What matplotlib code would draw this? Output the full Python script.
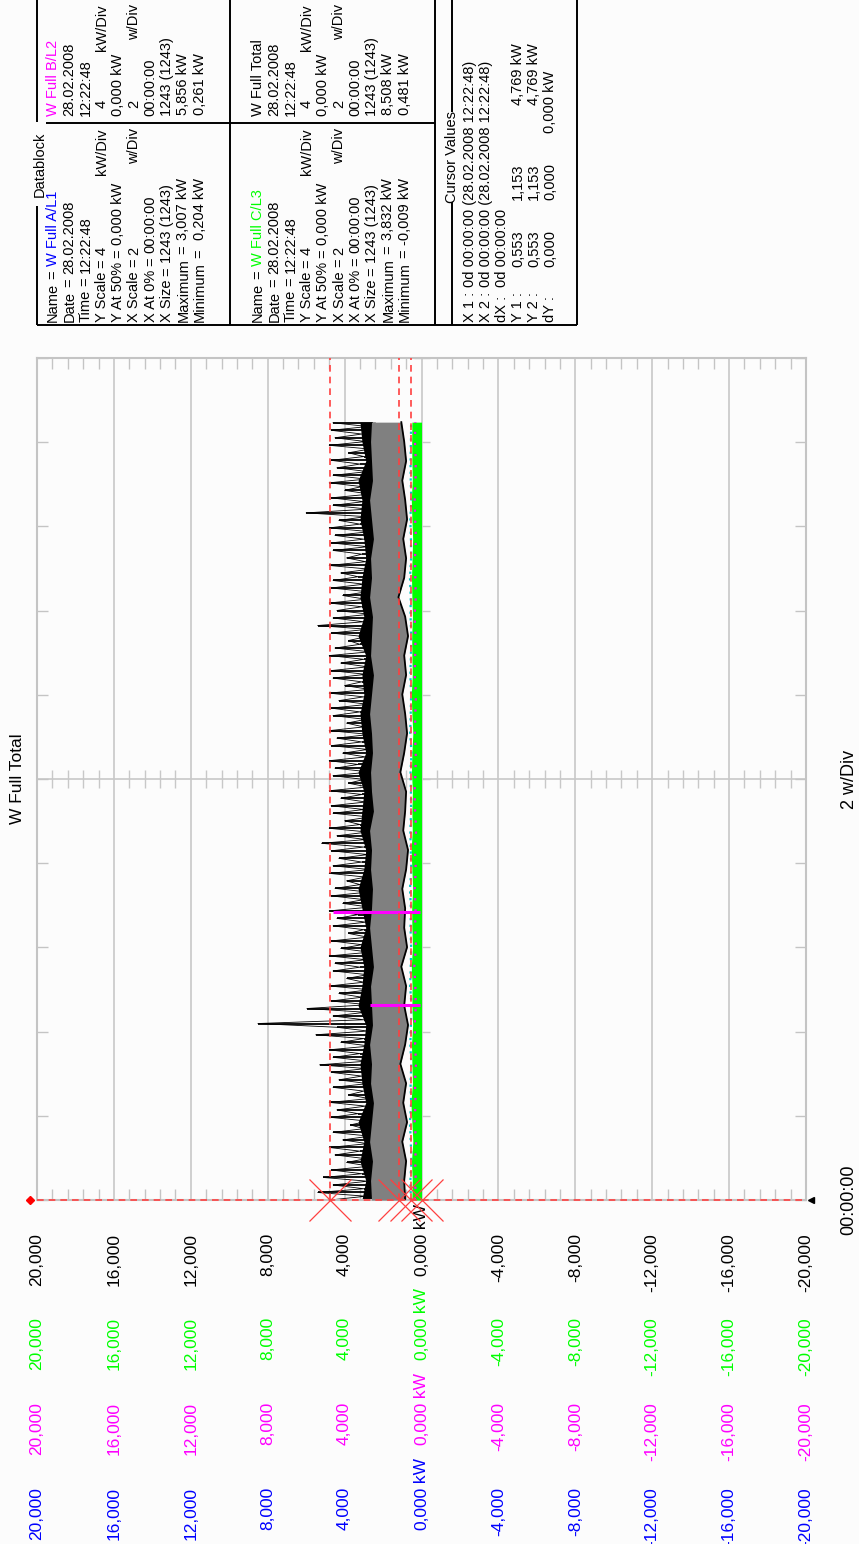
import numpy as np
import matplotlib
matplotlib.use("Agg")
import matplotlib.pyplot as plt
from matplotlib.transforms import blended_transform_factory

W, H = 859, 1544
FONT = ["Liberation Sans Narrow", "Liberation Sans", "DejaVu Sans"]
DB_FONT = ["Liberation Sans", "DejaVu Sans"]
plt.rcParams["font.family"] = FONT

# ---- values (kW against sample number) ----
n_samples = 1243
div_samples = 134.55
value_ticks = [20, 16, 12, 8, 4, 0, -4, -8, -12, -16, -20]
label_colors = ["black", "#00ff00", "#ff00ff", "#0000ff"]   # Total, C/L3, B/L2, A/L1

# W Full Total, every 6th sample
total_kw = [
    4.77, 2.9, 5.4, 3.0, 4.6, 2.8, 5.1, 3.1, 4.7, 2.7, 3.9, 2.9, 4.5, 3.2, 4.8, 2.8,
    4.1, 2.7, 4.6, 3.0, 3.7, 2.8, 4.7, 3.3, 4.4, 2.9, 4.8, 2.7, 3.8, 3.0, 4.6, 2.8,
    4.3, 3.1, 4.7, 2.9, 5.3, 2.8, 4.6, 3.2, 4.8, 2.7, 4.2, 3.0, 5.5, 2.8, 4.4, 8.51,
    3.0, 4.6, 2.9, 5.96, 2.8, 4.7, 3.1, 4.3, 2.7, 4.8, 3.0, 3.9, 2.8, 4.6, 3.2, 4.5,
    2.9, 4.8, 2.7, 4.2, 3.1, 4.7, 2.8, 3.8, 3.0, 4.6, 2.9, 4.4, 3.3, 4.8, 2.7, 4.1,
    3.0, 4.7, 2.8, 4.5, 3.2, 3.9, 2.9, 4.8, 2.7, 4.6, 3.1, 4.3, 2.8, 4.7, 3.0, 5.2,
    2.9, 4.4, 2.8, 4.8, 3.2, 4.0, 2.7, 4.6, 3.0, 4.7, 2.9, 4.2, 3.1, 4.8, 2.8, 3.8,
    3.0, 4.6, 2.7, 4.5, 3.3, 4.8, 2.9, 4.1, 2.8, 4.7, 3.1, 4.4, 2.7, 4.8, 3.0, 3.9,
    2.9, 4.6, 3.2, 4.7, 2.8, 4.3, 3.0, 4.8, 2.7, 4.0, 3.1, 4.6, 2.9, 4.7, 2.8, 4.2,
    3.0, 4.8, 2.7, 4.5, 3.2, 3.8, 2.9, 4.7, 2.8, 5.4, 3.0, 4.6, 2.7, 4.4, 3.1, 4.8,
    2.9, 4.1, 2.8, 4.7, 3.0, 4.6, 3.3, 4.2, 2.7, 4.8, 2.9, 3.9, 3.1, 4.6, 2.8, 4.7,
    3.0, 4.5, 2.7, 4.8, 3.2, 4.3, 2.9, 6.0, 2.8, 4.6, 3.0, 4.7, 2.7, 4.0, 3.1, 4.8,
    2.9, 4.6, 2.8, 4.4, 3.2, 4.7, 3.0, 3.8, 2.7, 4.8, 2.9, 4.5, 3.1, 4.7, 2.8, 4.6,
]
# dense black floor of the Total trace
floor_kw = [3.1, 2.9, 3.2, 3.0, 3.3, 2.9, 3.1, 3.2, 3.0, 2.9, 3.3, 3.1, 3.0, 3.2, 2.9, 3.1,
            3.3, 3.0, 2.9, 3.2, 3.1, 3.0, 3.3, 2.9, 3.1, 3.2, 3.0, 3.1, 2.9, 3.3, 3.0, 3.2,
            3.1, 2.9, 3.0, 3.2, 3.1, 3.3, 2.9, 3.1, 3.2]
# grey band
band_low_kw = [0.85, 0.9, 0.8, 1.0, 0.75, 0.95, 0.8, 1.1, 0.85, 0.7, 0.9, 0.8, 1.05, 0.75,
               0.9, 0.85, 1.0, 0.8, 0.7, 0.95, 0.85, 0.8, 1.1, 0.9, 0.75, 0.85, 1.0, 0.8,
               0.9, 0.7, 0.85, 1.2, 0.9, 0.8, 0.95, 0.75, 0.85, 1.0, 0.8, 0.9, 1.05]
band_high_kw = [2.6, 2.65, 2.55, 2.7, 2.6, 2.5, 2.65, 2.6, 2.7, 2.55, 2.6, 2.65, 2.5, 2.6,
                2.7, 2.6, 2.55, 2.65, 2.6, 2.7, 2.5, 2.6, 2.65, 2.55, 2.6, 2.7, 2.6, 2.5,
                2.65, 2.6, 2.55, 2.7, 2.6, 2.65, 2.5, 2.6, 2.7, 2.55, 2.6, 2.65, 2.6]
# W Full C/L3 (green band), A/L1, B/L2
green_top_kw = [0.5, 0.48, 0.52, 0.45, 0.5, 0.55, 0.47, 0.5, 0.52, 0.46, 0.5, 0.49, 0.53,
                0.47, 0.5, 0.51, 0.46, 0.5, 0.54, 0.48, 0.5, 0.47, 0.52, 0.5, 0.45, 0.5,
                0.53, 0.48, 0.5, 0.51, 0.47, 0.5, 0.52, 0.49, 0.46, 0.5, 0.53, 0.48, 0.5,
                0.51, 0.5]
a_l1_kw = [0.55, 0.58, 0.52, 0.56, 0.6, 0.54, 0.57, 0.53, 0.58, 0.55, 0.52, 0.59, 0.56,
           0.54, 0.57, 0.55, 0.6, 0.53, 0.56, 0.58, 0.54, 0.55, 0.57, 0.52, 0.59, 0.56,
           0.54, 0.58, 0.55, 0.53, 0.57, 0.56, 0.6, 0.54, 0.55, 0.58, 0.53, 0.56, 0.57,
           0.55, 0.54]
b_l2_kw = [0.35, 0.3, 0.33, 0.28, 0.36, 0.31, 0.34, 0.29, 0.33, 0.35, 0.3, 0.32, 0.37,
           0.29, 0.33, 0.31, 0.35, 0.3, 0.34, 0.28, 0.33, 0.36, 0.31, 0.3, 0.34, 0.32,
           0.29, 0.35, 0.33, 0.31, 0.36, 0.3, 0.32, 0.34, 0.29, 0.33, 0.35, 0.31, 0.3,
           0.34, 0.32]
pink_t = [311, 460]
pink_kw = [2.7, 4.6]
cursor_kw = [4.769, 1.153, 0.553, 0.000]

# datablock text
db_labels = ["Name", "Date", "Time", "Y Scale", "Y At 50%", "X Scale", "X At 0%",
             "X Size", "Maximum", "Minimum"]
ch_names = ["W Full A/L1", "W Full B/L2", "W Full C/L3", "W Full Total"]
ch_colors = ["#0000ff", "#ff00ff", "#00ff00", "black"]
ch_max = ["3,007 kW", "5,856 kW", "3,832 kW", "8,508 kW"]
ch_min = ["0,204 kW", "0,261 kW", "-0,009 kW", "0,481 kW"]


def fx(px):
    return px / W


def fy(py):
    return 1 - py / H


fig = plt.figure(figsize=(W / 100, H / 100), dpi=100, facecolor="#fcfcfc")
ax = fig.add_axes([fx(37), fy(1200), (806 - 37) / W, (1200 - 358) / H])
ax.set_facecolor("#fcfcfc")
ax.set_xlim(20, -20)
ax.set_ylim(0, 10 * div_samples)
ax.set_axisbelow(True)

minor_v = [v for v in np.arange(-20, 20.01, 0.8) if abs(v / 4 - round(v / 4)) > 0.01]
time_divs = np.arange(11) * div_samples
ax.set_xticks(value_ticks)
ax.set_xticks(minor_v, minor=True)
ax.set_yticks(time_divs)
ax.tick_params(which="both", direction="in", colors="#c4c4c4", top=True, right=True,
               labelbottom=False, labelleft=False)
ax.tick_params(axis="x", which="major", length=0)
ax.tick_params(axis="x", which="minor", length=8, width=1)
ax.tick_params(axis="y", which="major", length=8, width=1)
ax.grid(axis="x", which="major", color="#c8c8c8", lw=1.2)
for s in ax.spines.values():
    s.set_color("#c4c4c4")
    s.set_linewidth(1.5)
center = 5 * div_samples
ax.axhline(center, color="#c8c8c8", lw=1.2, zorder=0.5)
ax.plot(minor_v, [center] * len(minor_v), ls="none", marker="|", ms=13, mew=1,
        color="#c8c8c8", zorder=0.5)
ax.plot([0] * len(time_divs), time_divs, ls="none", marker="_", ms=12, mew=1,
        color="#c8c8c8", zorder=0.5)

t_total = np.arange(len(total_kw)) * 6
t_band = np.linspace(0, n_samples, len(band_low_kw))

ax.fill_betweenx(t_band, 2.4, floor_kw, color="black", lw=0, zorder=2)
ax.hlines(t_total, 2.5, total_kw, color="black", lw=1.3, zorder=2)
ax.plot(total_kw, t_total, color="black", lw=0.6, zorder=2)
ax.fill_betweenx(t_band, band_low_kw, band_high_kw, color="#808080", lw=0, zorder=3)
ax.plot(band_low_kw, t_band, color="black", lw=1.3, zorder=4)
ax.fill_betweenx(t_band, 0, green_top_kw, color="#00ff00", lw=0, zorder=4)
ax.plot(a_l1_kw, t_band, color="#00c8c8", lw=1.6, ls=(0, (1, 2)), zorder=5)
ax.plot(b_l2_kw, t_band, color="#ff00ff", lw=1.6, ls=(0, (1, 4)), zorder=5)
ax.hlines(pink_t, 0.1, pink_kw, color="#ff00ff", lw=2.2, zorder=6)

# cursors
for v in cursor_kw[:3]:
    ax.axvline(v, color="#ff4040", lw=1.2, ls=(0, (4, 3)), zorder=7)
ax.axhline(0, color="#ff4040", lw=1.2, ls=(0, (4, 3)), zorder=7, clip_on=False)
ax.plot(cursor_kw, [0] * len(cursor_kw), ls="none", marker="x", ms=30, mew=0.9,
        color="#ff4040", clip_on=False, zorder=8)
ax.plot([20.35], [0], marker="D", ms=4, color="red", clip_on=False, zorder=8)
ax.plot([-20.25], [0], marker="<", ms=5, color="black", clip_on=False, zorder=8)

# value labels, four colour columns below the plot
trans = blended_transform_factory(ax.transData, fig.transFigure)
for py, c in zip([1233, 1317, 1402, 1487], label_colors):
    for v in value_ticks:
        s = f"{v:.3f}".replace(".", ",")
        ax.text(v, fy(py), s, rotation=90, ha="center", va="top", color=c,
                fontsize=12.5, transform=trans, clip_on=False)
        if v == 0:
            ax.text(v, fy(py + 1), " kW", rotation=90, ha="center", va="bottom",
                    color=c, fontsize=12.5, transform=trans, clip_on=False)

fig.text(fx(18), fy(779), "W Full Total", rotation=90, ha="center", va="center",
         fontsize=12.5)
fig.text(fx(849), fy(1200), "00:00:00", rotation=90, ha="center", va="center",
         fontsize=13)
fig.text(fx(849), fy(779), "2 w/Div", rotation=90, ha="center", va="center",
         fontsize=13)

# ---- datablock (pixel coordinates) ----
db = fig.add_axes([0, 0, 1, 1], facecolor="none")
db.set_xlim(0, W)
db.set_ylim(H, 0)
db.axis("off")
fig.canvas.draw()
renderer = fig.canvas.get_renderer()


def dtext(x, y, s, color="black", end=False, va=None):
    t = db.text(x, y, s, rotation=90, ha="center",
                va=va or ("top" if end else "bottom"), color=color,
                fontsize=10.5, family=DB_FONT)
    return t


def top_of(t):
    # upper end (smallest pixel y) of a rotated text
    bb = t.get_window_extent(renderer).transformed(db.transData.inverted())
    return min(bb.y0, bb.y1)


def dline(x0, y0, x1, y1):
    db.plot([x0, x1], [y0, y1], color="black", lw=1.4, solid_capstyle="butt")


# frames
dline(37, 0, 37, 122)
dline(37, 206, 37, 325)
dline(37, 325, 577, 325)
dline(577, 0, 577, 325)
dline(46, 123, 435, 123)
dline(230, 0, 230, 325)
dline(435, 0, 435, 325)
dline(452, 0, 452, 112)
dline(452, 202, 452, 325)
dtext(40, 164, "Datablock", va="center")
dtext(452, 157, "Cursor Values", va="center")

for blk, x0 in enumerate([53, 258]):
    a, b = 2 * blk, 2 * blk + 1
    for k, lab in enumerate(db_labels):
        x = x0 + 16.3 * k
        lt = dtext(x, 322, lab)
        eq_start = min(288, top_of(lt) - 4)
        eq = dtext(x, eq_start, "=")
        v_start = min(277, top_of(eq) - 4)
        if k == 0:
            dtext(x, v_start, ch_names[a], ch_colors[a])
            dtext(x, 116, ch_names[b], ch_colors[b])
        elif k == 1:
            dtext(x, v_start, "28.02.2008")
            dtext(x, 116, "28.02.2008")
        elif k == 2:
            dtext(x, v_start, "12:22:48")
            dtext(x, 116, "12:22:48")
        elif k in (3, 5):
            num, unit = ("4", "kW/Div") if k == 3 else ("2", "w/Div")
            dtext(x, min(260, v_start), num)
            dtext(x, 128, unit, end=True)
            dtext(x, 108, num)
            dtext(x, 4, unit, end=True)
        elif k == 4:
            dtext(x, v_start, "0,000 kW")
            dtext(x, 116, "0,000 kW")
        elif k == 6:
            dtext(x, v_start, "00:00:00")
            dtext(x, 116, "00:00:00")
        elif k == 7:
            dtext(x, v_start, "1243 (1243)")
            dtext(x, 116, "1243 (1243)")
        elif k == 8:
            dtext(x, 178, ch_max[a], end=True)
            dtext(x, 53, ch_max[b], end=True)
        else:
            dtext(x, 178, ch_min[a], end=True)
            dtext(x, 53, ch_min[b], end=True)

cur_rows = [470, 486, 502, 518, 534, 550]
cur_labels = ["X 1 :", "X 2 :", "dX :", "Y 1 :", "Y 2 :", "dY :"]
cur_tops = []
for x, lab in zip(cur_rows, cur_labels):
    cur_tops.append(top_of(dtext(x, 322, lab)))
c_start = min(290, min(cur_tops) - 5)
dtext(cur_rows[0], c_start, "0d 00:00:00 (28.02.2008 12:22:48)")
dtext(cur_rows[1], c_start, "0d 00:00:00 (28.02.2008 12:22:48)")
dtext(cur_rows[2], c_start, "0d 00:00:00")
for x in cur_rows[3:5]:
    dtext(x, 267, "0,553")
    dtext(x, 200, "1,153")
    dtext(x, 105, "4,769 kW")
dtext(cur_rows[5], 267, "0,000")
dtext(cur_rows[5], 200, "0,000")
dtext(cur_rows[5], 133, "0,000 kW")

fig.savefig("out.png", dpi=100, facecolor=fig.get_facecolor())
